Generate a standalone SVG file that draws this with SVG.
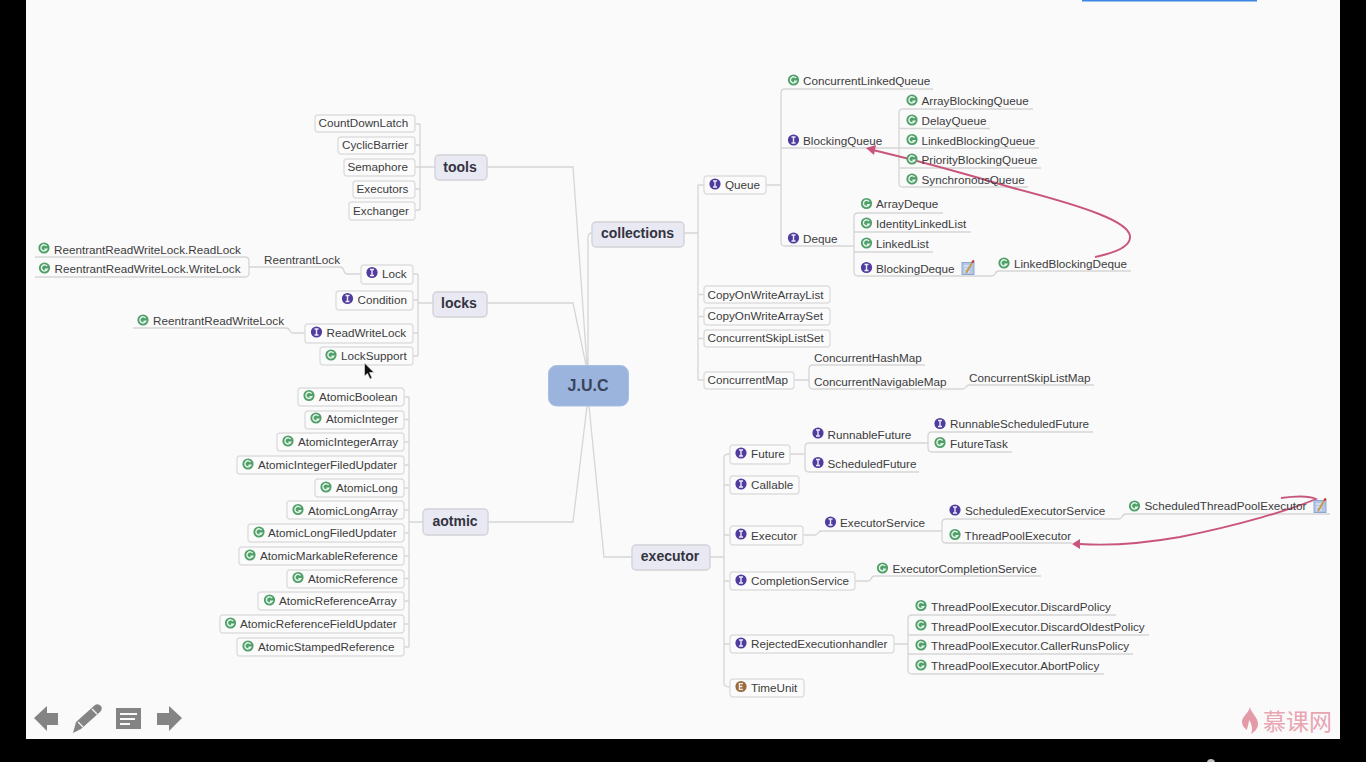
<svg xmlns="http://www.w3.org/2000/svg" width="1366" height="762" viewBox="0 0 1366 762">
<style>
text{font-family:"Liberation Sans",Arial,sans-serif;font-size:11.7px;fill:#3c3c40}
.b{fill:#fbfbfb;stroke:#dedede;stroke-width:1.4}
.t{fill:#e9e9f3;stroke:#d2d2d8;stroke-width:1.4}
.tt{font-size:14px;font-weight:bold;fill:#333340;text-anchor:middle}
.c path{fill:none;stroke:#d6d6d6;stroke-width:1.3}
.p{fill:none;stroke:#c9557a;stroke-width:1.9}
.tb{fill:#848484}
</style>
<defs>
<g id="G"><circle r="5.6" fill="#4f9f68"/><path d="M2.6-1.8A3.1 3.1 0 1 0 2.8 1.3H.4" fill="none" stroke="#e6f4ea" stroke-width="1.4"/></g>
<g id="I"><circle r="5.6" fill="#503c9e"/><path d="M-2-3H2M-2 3H2M0-3V3" fill="none" stroke="#ece9f8" stroke-width="1.4"/></g>
<g id="E"><circle r="5.6" fill="#9a6b3e"/><path d="M2-2.8H-1.6V2.8H2M-1.6 0H1.4" fill="none" stroke="#f3ebe1" stroke-width="1.3"/></g>
<g id="N"><rect x="-6" y="-5.500" width="12" height="12" fill="#b4c6e6" stroke="#8ea8d4"/><path d="M-4-2H2M-4 1H2M-4 4H2" stroke="#eef2f9"/><path d="M-2 5L4-5" stroke="#c59a4a" stroke-width="2"/><path d="M4-5.500L6-7.500" stroke="#c9352f" stroke-width="2"/></g>
</defs>
<rect width="1366" height="762" fill="#000"/>
<rect x="26" y="0" width="1314" height="739" fill="#fafafa"/>
<rect x="1082" y="0" width="175" height="1.5" fill="#3d86e6"/>
<circle cx="1211" cy="763" r="4" fill="#bbb"/>

<g id="connectors" class="c">
<path d="M487 167H573L587 365M487 303H573L586 365M488 522H573L587 406M592 233Q588 233 588 238V365M632 557H604L589 406"/>
<path d="M435 167H420M420 124Q420 124 415 124M420 124V210M415 145H420M415 167H420M415 189H420M415 210H420"/>
<path d="M433 303H418M418 274V356M413 274H418M413 300H418M413 333H418M413 356H418"/>
<path d="M361 274H347Q345 274 344 271Q343 267 340 267H249M249 261V273M249 261Q249 257 245 257H35M249 273Q249 277 245 277H35"/>
<path d="M305 333H293Q291 333 290 331Q289 328 286 328H133"/>
<path d="M423 522H409M409 397V647M404 397H409M404 419.500H409M404 442H409M404 465H409M404 488H409M404 510H409M404 533H409M404 556H409M404 578.500H409M404 601H409M404 624H409M404 647H409"/>
<path d="M684 233H698M698 185V380M698 185H704M698 294.500H704M698 316.500H704M698 338.500H704M698 380H704"/>
<path d="M766 185H781M781 93V242M781 93Q781 89 785 89H933M781 148H899M781 242Q781 246 785 246H854"/>
<path d="M899 113V183M899 113Q899 109 903 109H1033M899 128.500H990M899 148H1039M899 168H1041M899 183Q899 187 903 187H1028"/>
<path d="M854 217V272M854 217Q854 213 858 213H943M854 232H971M854 252H933M854 272Q854 276 858 276H991Q994 276 995 274Q996 271 999 271H1131"/>
<path d="M794 380H809M809 369V385M809 369Q809 365 813 365H925M809 385Q809 389 813 389H962Q965 389 966 387Q967 385 970 385H1094"/>
<path d="M710 557H724M724 457V683M724 457Q724 454 730 454M724 485H730M724 535H730M724 581H730M724 644H730M724 683Q724 687 730 687"/>
<path d="M790 454H805M805 447V468M805 447Q805 443 809 443H928M805 468Q805 472 809 472H919M928 436V448M928 436Q928 432 932 432H1093M928 448Q928 452 932 452H1012"/>
<path d="M803 535H815Q817 535 818 533Q819 531 822 531H942M942 523V539M942 523Q942 519 946 519H1118Q1121 519 1122 517Q1123 514 1126 514H1330M942 539Q942 543 946 543H1072"/>
<path d="M855 581H868Q870 581 871 579Q872 576 875 576H1041"/>
<path d="M894 644H908M908 619V670M908 619Q908 615 912 615H1116M908 635H1149M908 654H1133M908 670Q908 674 912 674H1104"/>
</g>

<g id="relations">
<path class="p" d="M1095 257C1120 252 1131 245 1130 236C1128 222 1090 208 1013 188C960 172 915 160 873 150"/>
<path d="M866 148L876 145L874 155Z" fill="#c9557a"/>
<path class="p" d="M1281 498C1295 496 1310 496 1316 499C1290 510 1240 525 1180 537C1140 544 1110 546 1080 544"/>
<path d="M1072 544L1080 539L1080 549Z" fill="#c9557a"/>
</g>

<g id="juc"><rect x="548.500" y="365.500" width="80" height="40.500" rx="8" fill="#9ab4de" stroke="#a9bfe2"/><text x="588" y="391" class="tt" style="font-size:16px;fill:#38445a">J.U.C</text></g>
<g id="tools"><rect class="t" x="435" y="155" width="52" height="25" rx="4"/><text class="tt" x="460" y="172">tools</text></g>
<g id="locks"><rect class="t" x="433" y="292" width="54" height="25" rx="4"/><text class="tt" x="459" y="308">locks</text></g>
<g id="aotmic"><rect class="t" x="423" y="509" width="65" height="26" rx="4"/><text class="tt" x="455" y="526">aotmic</text></g>
<g id="collections"><rect class="t" x="592" y="222" width="92" height="25" rx="4"/><text class="tt" x="637.500" y="238">collections</text></g>
<g id="executor"><rect class="t" x="632" y="545" width="78" height="25" rx="4"/><text class="tt" x="670" y="561">executor</text></g>

<g id="n-countdownlatch"><rect class="b" x="315" y="115" width="100" height="17" rx="3"/><text x="318.500" y="127">CountDownLatch</text></g>
<g id="n-cyclicbarrier"><rect class="b" x="338" y="137" width="77" height="17" rx="3"/><text x="342" y="149">CyclicBarrier</text></g>
<g id="n-semaphore"><rect class="b" x="344" y="159" width="71" height="17" rx="3"/><text x="347.500" y="171">Semaphore</text></g>
<g id="n-executors"><rect class="b" x="353" y="181" width="62" height="17" rx="3"/><text x="356.500" y="193">Executors</text></g>
<g id="n-exchanger"><rect class="b" x="349" y="202" width="66" height="18" rx="3"/><text x="353" y="215">Exchanger</text></g>

<g id="n-readlock"><use href="#G" x="44" y="248"/><text x="54" y="254">ReentrantReadWriteLock.ReadLock</text></g>
<g id="n-writelock"><use href="#G" x="44.500" y="268"/><text x="54.500" y="273">ReentrantReadWriteLock.WriteLock</text></g>
<g id="n-reentrantlock"><text x="264" y="264">ReentrantLock</text></g>
<g id="n-lock"><rect class="b" x="361" y="265" width="52" height="19" rx="3"/><use href="#I" x="372" y="272.500"/><text x="382" y="278">Lock</text></g>
<g id="n-condition"><rect class="b" x="336" y="291" width="77" height="19" rx="3"/><use href="#I" x="347.500" y="298.500"/><text x="357.500" y="304">Condition</text></g>
<g id="n-rrwl"><use href="#G" x="143" y="320"/><text x="153" y="325">ReentrantReadWriteLock</text></g>
<g id="n-readwritelock"><rect class="b" x="305" y="324" width="108" height="19" rx="3"/><use href="#I" x="316.500" y="332"/><text x="326.500" y="337">ReadWriteLock</text></g>
<g id="n-locksupport"><rect class="b" x="320" y="347" width="93" height="18" rx="3"/><use href="#G" x="331" y="355"/><text x="341" y="360">LockSupport</text></g>

<g id="n-ab"><rect class="b" x="298" y="388" width="106" height="18" rx="3"/><use href="#G" x="309" y="395.500"/><text x="319" y="401">AtomicBoolean</text></g>
<g id="n-ai"><rect class="b" x="305" y="411" width="99" height="18" rx="3"/><use href="#G" x="316" y="418"/><text x="326" y="423">AtomicInteger</text></g>
<g id="n-aia"><rect class="b" x="277" y="433" width="127" height="18" rx="3"/><use href="#G" x="288" y="441"/><text x="298" y="446">AtomicIntegerArray</text></g>
<g id="n-aifu"><rect class="b" x="237" y="456" width="167" height="18" rx="3"/><use href="#G" x="248" y="464"/><text x="258" y="469">AtomicIntegerFiledUpdater</text></g>
<g id="n-al"><rect class="b" x="315" y="479" width="89" height="18" rx="3"/><use href="#G" x="326" y="487"/><text x="336" y="492">AtomicLong</text></g>
<g id="n-ala"><rect class="b" x="287" y="501" width="117" height="18" rx="3"/><use href="#G" x="298" y="509.500"/><text x="308" y="514.500">AtomicLongArray</text></g>
<g id="n-alfu"><rect class="b" x="248" y="524" width="156" height="18" rx="3"/><use href="#G" x="259" y="532"/><text x="268" y="537">AtomicLongFiledUpdater</text></g>
<g id="n-amr"><rect class="b" x="239" y="547" width="165" height="18" rx="3"/><use href="#G" x="250" y="555"/><text x="260" y="560">AtomicMarkableReference</text></g>
<g id="n-ar"><rect class="b" x="287" y="570" width="117" height="18" rx="3"/><use href="#G" x="298" y="577.500"/><text x="308" y="582.500">AtomicReference</text></g>
<g id="n-ara"><rect class="b" x="258" y="592" width="146" height="18" rx="3"/><use href="#G" x="269.500" y="600"/><text x="279" y="605">AtomicReferenceArray</text></g>
<g id="n-arfu"><rect class="b" x="220" y="615" width="184" height="18" rx="3"/><use href="#G" x="230.500" y="623"/><text x="240" y="628">AtomicReferenceFieldUpdater</text></g>
<g id="n-asr"><rect class="b" x="237" y="638" width="167" height="18" rx="3"/><use href="#G" x="248" y="646"/><text x="258" y="651">AtomicStampedReference</text></g>

<g id="n-queue"><rect class="b" x="704" y="176" width="62" height="18" rx="3"/><use href="#I" x="715" y="184"/><text x="725" y="189">Queue</text></g>
<g id="n-clq"><use href="#G" x="793.500" y="80"/><text x="803" y="85">ConcurrentLinkedQueue</text></g>
<g id="n-bq"><use href="#I" x="793.500" y="140"/><text x="803" y="145">BlockingQueue</text></g>
<g id="n-abq"><use href="#G" x="912" y="100"/><text x="921.500" y="105">ArrayBlockingQueue</text></g>
<g id="n-dq"><use href="#G" x="912" y="120"/><text x="921.500" y="125">DelayQueue</text></g>
<g id="n-lbq"><use href="#G" x="912" y="139.500"/><text x="921.500" y="144.500">LinkedBlockingQueue</text></g>
<g id="n-pbq"><use href="#G" x="912" y="159"/><text x="921.500" y="164">PriorityBlockingQueue</text></g>
<g id="n-sq"><use href="#G" x="912" y="179"/><text x="921.500" y="184">SynchronousQueue</text></g>
<g id="n-deque"><use href="#I" x="793.500" y="238"/><text x="803" y="243">Deque</text></g>
<g id="n-ad"><use href="#G" x="866.500" y="203.500"/><text x="876" y="208">ArrayDeque</text></g>
<g id="n-ill"><use href="#G" x="866.500" y="223"/><text x="876" y="228">IdentityLinkedList</text></g>
<g id="n-ll"><use href="#G" x="866.500" y="243"/><text x="876" y="248">LinkedList</text></g>
<g id="n-bd"><use href="#I" x="866.500" y="267.500"/><text x="876" y="273">BlockingDeque</text><use href="#N" x="968" y="268"/></g>
<g id="n-lbd"><use href="#G" x="1004" y="263"/><text x="1014" y="268">LinkedBlockingDeque</text></g>
<g id="n-cowal"><rect class="b" x="704" y="286" width="126" height="17" rx="3"/><text x="707.500" y="298.500">CopyOnWriteArrayList</text></g>
<g id="n-cowas"><rect class="b" x="704" y="308" width="126" height="17" rx="3"/><text x="707.500" y="320">CopyOnWriteArraySet</text></g>
<g id="n-csls"><rect class="b" x="704" y="330" width="126" height="17" rx="3"/><text x="707.500" y="342">ConcurrentSkipListSet</text></g>
<g id="n-cm"><rect class="b" x="704" y="372" width="90" height="17" rx="3"/><text x="707.500" y="384">ConcurrentMap</text></g>
<g id="n-chm"><text x="814" y="362">ConcurrentHashMap</text></g>
<g id="n-cnm"><text x="814" y="386">ConcurrentNavigableMap</text></g>
<g id="n-cslm"><text x="969" y="382">ConcurrentSkipListMap</text></g>

<g id="n-future"><rect class="b" x="730" y="445" width="60" height="19" rx="3"/><use href="#I" x="741" y="453"/><text x="751" y="458">Future</text></g>
<g id="n-rf"><use href="#I" x="818" y="433"/><text x="827.500" y="438.500">RunnableFuture</text></g>
<g id="n-rsf"><use href="#I" x="940" y="423.500"/><text x="950" y="428">RunnableScheduledFuture</text></g>
<g id="n-ft"><use href="#G" x="940" y="442.500"/><text x="950" y="448">FutureTask</text></g>
<g id="n-sf"><use href="#I" x="818" y="462.500"/><text x="827.500" y="467.500">ScheduledFuture</text></g>
<g id="n-callable"><rect class="b" x="730" y="476" width="69" height="18" rx="3"/><use href="#I" x="741" y="484"/><text x="751" y="489">Callable</text></g>
<g id="n-executor"><rect class="b" x="730" y="526" width="73" height="19" rx="3"/><use href="#I" x="741" y="534"/><text x="751" y="539.500">Executor</text></g>
<g id="n-es"><use href="#I" x="830.500" y="522"/><text x="840" y="527">ExecutorService</text></g>
<g id="n-ses"><use href="#I" x="955" y="510"/><text x="965" y="515">ScheduledExecutorService</text></g>
<g id="n-stpe"><use href="#G" x="1134.500" y="506"/><text x="1144.500" y="510">ScheduledThreadPoolExecutor</text><use href="#N" x="1320" y="506"/></g>
<g id="n-tpe"><use href="#G" x="955" y="534.500"/><text x="964.500" y="539.500">ThreadPoolExecutor</text></g>
<g id="n-cs"><rect class="b" x="730" y="572" width="125" height="18" rx="3"/><use href="#I" x="741" y="580"/><text x="751" y="585">CompletionService</text></g>
<g id="n-ecs"><use href="#G" x="882.500" y="568"/><text x="892.500" y="573">ExecutorCompletionService</text></g>
<g id="n-reh"><rect class="b" x="730" y="635" width="164" height="18" rx="3"/><use href="#I" x="741" y="643"/><text x="751" y="648">RejectedExecutionhandler</text></g>
<g id="n-dp"><use href="#G" x="921" y="605.500"/><text x="931" y="610.500">ThreadPoolExecutor.DiscardPolicy</text></g>
<g id="n-dop"><use href="#G" x="921" y="625"/><text x="931" y="630.500">ThreadPoolExecutor.DiscardOldestPolicy</text></g>
<g id="n-crp"><use href="#G" x="921" y="645"/><text x="931" y="650">ThreadPoolExecutor.CallerRunsPolicy</text></g>
<g id="n-ap"><use href="#G" x="921" y="665"/><text x="931" y="670">ThreadPoolExecutor.AbortPolicy</text></g>
<g id="n-timeunit"><rect class="b" x="730" y="679" width="74" height="18" rx="3"/><use href="#E" x="741" y="686.500"/><text x="751" y="691.500">TimeUnit</text></g>

<g id="cursor"><path d="M364.500 363V376L367.500 373.500L370 379L372 378L369.500 372.500H374Z" fill="#111" stroke="#eee" stroke-width=".6"/></g>
<g id="toolbar">
<path class="tb" d="M34 718L47 706V713H58V725H47V731Z"/>
<path class="tb" d="M73 733L76 722L95 705Q98 703 101 706Q103 709 100 712L81 729Z"/>
<path d="M78 722L83 727M92 709L97 714" stroke="#fafafa" stroke-width="1.2" fill="none"/>
<path class="tb" fill-rule="evenodd" d="M116 708H141V729H116ZM120 713V715H137V713ZM120 718V720H135V718ZM120 723V725H130V723Z"/>
<path class="tb" d="M182 718L169 706V713H157V725H169V731Z"/>
</g>
<g id="logo">
<path d="M1250 707C1251 713 1258 717 1258 724C1258 729 1254 732 1251 734C1253 730 1252 724 1249 720C1249 724 1247 727 1247 730C1244 728 1242 725 1242 722C1242 716 1249 713 1250 707Z" fill="#e59aa8"/>
<text x="1263" y="730" style="font-family:'Noto Sans CJK SC',sans-serif;font-size:23px;fill:#e8a5b2">慕课网</text>
</g>
</svg>
